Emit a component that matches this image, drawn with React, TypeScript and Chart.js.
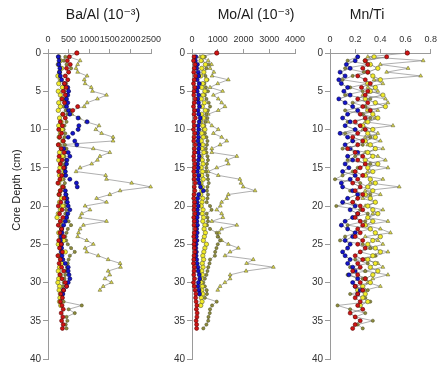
import React, { useEffect, useRef } from "react";
import { Chart, registerables } from "chart.js";

Chart.register(...registerables);

const FONT = "'Liberation Sans', Arial, 'DejaVu Sans', sans-serif";

// ---- depths (cm) ----
const DEPTH_TRI = [
  0, 0.5, 1, 1.5, 2, 2.5, 3, 3.5, 4, 4.5,
  5, 5.5, 6, 6.5, 7, 7.5, 8, 8.5, 9, 9.5,
  10, 10.5, 11, 11.5, 12, 12.5, 13, 13.5, 14, 14.5,
  15, 15.5, 16, 16.5, 17, 17.5, 18, 18.5, 19, 19.5,
  20, 20.5, 21, 21.5, 22, 22.5, 23, 23.5, 24, 24.5,
  25, 25.5, 26, 26.5, 27, 27.5, 28, 28.5, 29, 29.5,
  30, 30.5, 31,
];
const DEPTH_RED = [
  0.5, 1, 1.5, 2, 2.5, 3, 3.5, 4, 4.5, 5,
  5.5, 6, 6.5, 7, 7.5, 8, 8.5, 9, 9.5, 10,
  10.5, 11, 11.5, 12, 12.5, 13, 13.5, 14, 14.5, 15,
  15.5, 16, 16.5, 17, 17.5, 18, 18.5, 19, 19.5, 20,
  20.5, 21, 21.5, 22, 22.5, 23, 23.5, 24, 24.5, 25,
  25.5, 26, 26.5, 27, 27.5, 28, 28.5, 29, 29.5, 30,
  30.5, 31, 31.5, 32, 32.5, 33, 33.5, 34, 34.5, 35,
  35.5, 36,
];
const DEPTH_OLIVE = [
  0.5, 1, 1.5, 2, 2.5, 3, 3.5, 4, 4.5, 5,
  5.5, 6, 6.5, 7, 7.5, 8, 8.5, 9, 9.5, 10,
  10.5, 11, 11.5, 12, 12.5, 13, 13.5, 14, 14.5, 15,
  15.5, 16, 16.5, 17, 17.5, 18, 18.5, 19, 19.5, 20,
  20.5, 21, 21.5, 22, 22.5, 23, 23.5, 24, 24.5, 25,
  25.5, 26, 26.5, 27, 27.5, 28, 28.5, 29, 29.5, 30,
  30.5, 31, 31.5, 32, 32.5, 33, 33.5, 34, 34.5, 35,
  35.5, 36,
];
const DEPTH_BLUE = [
  0.5, 1, 1.5, 2, 2.5, 3, 3.5, 4, 4.5, 5,
  5.5, 6, 6.5, 7, 7.5, 8, 8.5, 9, 9.5, 10,
  10.5, 11, 11.5, 12, 12.5, 13, 13.5, 14, 14.5, 15,
  15.5, 16, 16.5, 17, 17.5, 18, 18.5, 19, 19.5, 20,
  20.5, 21, 21.5, 22, 22.5, 23, 23.5, 24, 24.5, 25,
  25.5, 26, 26.5, 27, 27.5, 28, 28.5, 29, 29.5, 30,
  30.5, 31, 31.5,
];
const DEPTH_YELLOW = [
  0.5, 1, 1.5, 2, 2.5, 3, 3.5, 4, 4.5, 5,
  5.5, 6, 6.5, 7, 7.5, 8, 8.5, 9, 9.5, 10,
  10.5, 11, 11.5, 12, 12.5, 13, 13.5, 14, 14.5, 15,
  15.5, 16, 16.5, 17, 17.5, 18, 18.5, 19, 19.5, 20,
  20.5, 21, 21.5, 22, 22.5, 23, 23.5, 24, 24.5, 25,
  25.5, 26, 26.5, 27, 27.5, 28, 28.5, 29, 29.5, 30,
  30.5, 31, 31.5, 32, 32.5, 33,
];

// ---- Ba/Al (10^-3) ----
const BA_TRI = [
  700, 500, 780, 720, 680, 720, 950, 880, 900, 1050,
  1080, 1420, 1200, 950, 880, 540, 580, 760, 930, 1240,
  1160, 1300, 1580, 1580, 300, 1100, 1500, 1260, 1200, 1060,
  780, 680, 1400, 1420, 2030, 2490, 1750, 1500, 1180, 1420,
  900, 1020, 820, 780, 1420, 860, 780, 740, 720, 940,
  1100, 900, 940, 1220, 1460, 1750, 1760, 1460, 1500, 1380,
  1540, 1340, 1260,
];
const BA_RED = [
  520, 470, 540, 450, 500, 420, 480, 400, 440, 370,
  420, 340, 400, 720, 600, 360, 420, 300, 350, 260,
  330, 280, 370, 250, 320, 390, 270, 340, 300, 380,
  260, 330, 290, 240, 360, 300, 270, 390, 310, 250,
  340, 280, 360, 300, 250, 330, 290, 380, 260, 320,
  280, 350, 240, 300, 270, 330, 380, 290, 340, 420,
  450, 380, 310, 350, 300, 340, 370, 320, 360, 330,
  370, 350,
];
const BA_BLUE = [
  250, 270, 260, 290, 280, 300, 330, 400, 480, 500,
  480, 450, 480, 450, 500, 530, 730, 950, 750, 730,
  600, 490, 650, 700, 380, 490, 530, 460, 450, 410,
  420, 430, 530, 690, 710, 420, 430, 450, 470, 490,
  530, 480, 450, 420, 380, 330, 340, 320, 300, 330,
  330, 320, 340, 360, 420, 490, 490, 510, 530, 490,
  450, 380, 360,
];
const BA_YELLOW = [
  260, 300, 250, 330, 280, 240, 300, 260, 350, 250,
  300, 340, 260, 300, 250, 360, 280, 320, 260, 340,
  300, 270, 360, 260, 330, 280, 350, 260, 310, 290,
  380, 280, 320, 260, 350, 300, 270, 330, 280, 360,
  300, 250, 220, 310, 280, 330, 260, 300, 380, 250,
  300, 420, 260, 310, 330, 280, 250, 300, 260, 240,
  280, 270, 300, 290, 280, 310,
];
const BA_OLIVE = [
  420, 380, 450, 560, 500, 420, 480, 440, 380, 400,
  450, 420, 400, 380, 430, 470, 420, 450, 400, 380,
  420, 400, 380, 410, 450, 420, 400, 430, 410, 390,
  420, 400, 380, 410, 390, 420, 450, 470, 430, 410,
  440, 420, 460, 500, 560, 480, 450, 420, 440, 480,
  560, 650, 530, 500, 480, 460, 440, 420, 400, 380,
  360, 340, 360, 350, 380, 820, 500, 650, 450, 470,
  430, 450,
];

// ---- Mo/Al (10^-3) ----
const MO_TRI = [
  960, 310, 630, 760, 700, 850, 780, 1410, 1000, 700,
  1190, 830, 1020, 1150, 1280, 1020, 630, 500, 630, 770,
  1020, 830, 1150, 1350, 1090, 770, 770, 1740, 1350, 1410,
  960, 630, 1020, 1860, 1900, 1990, 2450, 1410, 1350, 1150,
  1100, 960, 1150, 1200, 770, 1740, 1150, 1050, 1020, 1150,
  1410, 1800, 1480, 1280, 2380, 2120, 3160, 2100, 1480, 1480,
  1280, 1090, 1000,
];
const MO_RED = [
  80, 60, 120, 90, 70, 130, 90, 60, 110, 80,
  70, 120, 90, 60, 100, 80, 130, 70, 90, 60,
  110, 80, 70, 120, 90, 100, 70, 80, 110, 90,
  70, 100, 80, 120, 90, 110, 80, 70, 100, 90,
  80, 110, 70, 90, 80, 120, 90, 70, 100, 80,
  90, 110, 80, 70, 60, 90, 80, 70, 100, 60,
  90, 120, 150, 140, 160, 190, 170, 200, 190, 160,
  180, 180,
];
const MO_BLUE = [
  150, 130, 210, 180, 240, 260, 200, 280, 230, 200,
  260, 220, 250, 290, 230, 260, 320, 280, 240, 260,
  220, 250, 230, 270, 260, 240, 280, 250, 220, 240,
  210, 260, 240, 280, 330, 440, 260, 220, 200, 240,
  210, 230, 200, 190, 210, 180, 200, 170, 190, 160,
  150, 170, 160, 180, 200, 230, 240, 280, 300, 250,
  230, 270, 290,
];
const MO_YELLOW = [
  420, 350, 520, 380, 460, 340, 560, 420, 380, 500,
  430, 360, 480, 400, 520, 380, 450, 340, 420, 500,
  380, 440, 360, 420, 390, 460, 350, 400, 430, 360,
  410, 380, 440, 350, 400, 380, 340, 420, 390, 360,
  430, 400, 450, 420, 500, 470, 520, 480, 440, 560,
  500, 460, 420, 450, 400, 430, 380, 410, 370, 350,
  400, 380, 420, 360, 390, 340,
];
const MO_OLIVE = [
  500, 380, 640, 560, 460, 520, 600, 480, 540, 620,
  500, 560, 650, 700, 620, 560, 600, 520, 480, 440,
  500, 560, 600, 580, 540, 560, 600, 620, 580, 560,
  540, 600, 620, 650, 600, 580, 620, 600, 570, 700,
  760, 570, 600, 620, 580, 700, 960, 1000, 1090, 1000,
  950, 900, 890, 700, 680, 630, 600, 560, 500, 440,
  500, 570, 580, 500, 960, 780, 700, 690, 640, 630,
  560, 440,
];

// ---- Mn/Ti ----
const MN_TRI = [
  0.614, 0.30, 0.74, 0.40, 0.62, 0.45, 0.72, 0.35, 0.42, 0.30,
  0.38, 0.26, 0.44, 0.46, 0.28, 0.38, 0.26, 0.36, 0.28, 0.50,
  0.26, 0.38, 0.28, 0.40, 0.30, 0.42, 0.28, 0.38, 0.44, 0.28,
  0.46, 0.30, 0.26, 0.42, 0.32, 0.55, 0.28, 0.40, 0.26, 0.36,
  0.28, 0.42, 0.34, 0.30, 0.46, 0.28, 0.40, 0.48, 0.28, 0.38,
  0.42, 0.32, 0.46, 0.36, 0.28, 0.38, 0.42, 0.28, 0.46, 0.34,
  0.30, 0.40, 0.28,
];
const MN_RED = [
  0.45, 0.28, 0.30, 0.26, 0.30, 0.22, 0.28, 0.32, 0.25, 0.30,
  0.28, 0.22, 0.30, 0.26, 0.32, 0.24, 0.28, 0.20, 0.24, 0.28,
  0.22, 0.18, 0.26, 0.22, 0.14, 0.20, 0.26, 0.22, 0.28, 0.24,
  0.20, 0.26, 0.22, 0.18, 0.24, 0.20, 0.26, 0.22, 0.18, 0.24,
  0.26, 0.22, 0.20, 0.24, 0.26, 0.22, 0.24, 0.20, 0.26, 0.22,
  0.28, 0.24, 0.20, 0.26, 0.22, 0.24, 0.18, 0.22, 0.28, 0.24,
  0.20, 0.26, 0.22, 0.20, 0.24, 0.22, 0.26, 0.16, 0.20, 0.24,
  0.20, 0.18,
];
const MN_BLUE = [
  0.22, 0.20, 0.13, 0.16, 0.08, 0.12, 0.07, 0.09, 0.14, 0.11,
  0.16, 0.07, 0.12, 0.18, 0.22, 0.14, 0.10, 0.16, 0.12, 0.20,
  0.08, 0.14, 0.18, 0.12, 0.16, 0.22, 0.14, 0.18, 0.12, 0.15,
  0.10, 0.20, 0.16, 0.09, 0.10, 0.18, 0.22, 0.14, 0.10, 0.20,
  0.16, 0.22, 0.18, 0.12, 0.09, 0.14, 0.20, 0.18, 0.12, 0.16,
  0.14, 0.10, 0.12, 0.16, 0.14, 0.18, 0.20, 0.15, 0.22, 0.18,
  0.20, 0.24, 0.22,
];
const MN_YELLOW = [
  0.35, 0.28, 0.32, 0.38, 0.30, 0.34, 0.40, 0.30, 0.36, 0.32,
  0.42, 0.28, 0.36, 0.44, 0.30, 0.34, 0.38, 0.30, 0.26, 0.34,
  0.30, 0.36, 0.28, 0.32, 0.36, 0.30, 0.34, 0.28, 0.38, 0.30,
  0.34, 0.28, 0.32, 0.36, 0.30, 0.34, 0.28, 0.32, 0.36, 0.30,
  0.34, 0.38, 0.30, 0.34, 0.28, 0.32, 0.36, 0.40, 0.34, 0.30,
  0.36, 0.40, 0.34, 0.30, 0.36, 0.32, 0.38, 0.34, 0.28, 0.32,
  0.26, 0.22, 0.28, 0.26, 0.30, 0.24,
];
const MN_OLIVE = [
  0.22, 0.14, 0.30, 0.12, 0.27, 0.18, 0.10, 0.30, 0.16, 0.26,
  0.12, 0.32, 0.18, 0.28, 0.12, 0.26, 0.32, 0.14, 0.24, 0.28,
  0.12, 0.32, 0.18, 0.26, 0.10, 0.30, 0.20, 0.14, 0.32, 0.22,
  0.18, 0.10, 0.04, 0.24, 0.30, 0.16, 0.32, 0.22, 0.18, 0.05,
  0.24, 0.30, 0.18, 0.28, 0.14, 0.32, 0.20, 0.12, 0.08, 0.26,
  0.32, 0.24, 0.36, 0.20, 0.30, 0.16, 0.28, 0.14, 0.26, 0.32,
  0.20, 0.30, 0.16, 0.28, 0.32, 0.06, 0.16, 0.28, 0.20, 0.34,
  0.22, 0.26,
];

// ---- axis ticks ----
const DEPTH_TICKS_STEP = 5;
const DEPTH_MAX = 40;

const pts = (xs: number[], ys: number[]) => xs.map((v, i) => ({ x: v, y: ys[i] }));

const panelText = {
  id: "panelText",
  afterDraw(chart: any, _args: any, opts: any) {
    const ctx = chart.ctx;
    ctx.save();
    ctx.fillStyle = "#1a1a1a";
    ctx.textAlign = "center";
    ctx.textBaseline = "middle";
    ctx.font = `14px ${FONT}`;
    ctx.fillText(opts.title, opts.titleX, opts.titleY);
    if (opts.yLabel) {
      ctx.translate(opts.yLabelX, opts.yLabelY);
      ctx.rotate(-Math.PI / 2);
      ctx.font = `11px ${FONT}`;
      ctx.fillStyle = "#222";
      ctx.fillText(opts.yLabel, 0, 0);
    }
    ctx.restore();
  },
};

const LINE_GRAY = "#8c8c8c";

function makeDatasets(
  tri: number[],
  red: number[],
  blue: number[],
  yellow: number[],
  olive: number[],
  allLines: boolean
) {
  const common = { clip: false as any };
  const thin = allLines
    ? { showLine: true, borderColor: "#7a7a7a", borderWidth: 0.8 }
    : { showLine: false };
  return [
    {
      ...common,
      label: "surface",
      data: [{ x: tri[0], y: DEPTH_TRI[0] }],
      pointRadius: 2.2,
      pointStyle: "circle",
      pointBackgroundColor: "#d01515",
      pointBorderColor: "#5a0000",
      pointBorderWidth: 0.6,
      showLine: false,
    },
    {
      ...common,
      ...thin,
      label: "red",
      data: pts(red, DEPTH_RED),
      pointRadius: 2.0,
      pointStyle: "circle",
      pointBackgroundColor: "#d01515",
      pointBorderColor: "#5a0000",
      pointBorderWidth: 0.6,
    },
    {
      ...common,
      ...thin,
      label: "blue",
      data: pts(blue, DEPTH_BLUE),
      pointRadius: 2.0,
      pointStyle: "circle",
      pointBackgroundColor: "#1414cc",
      pointBorderColor: "#00004a",
      pointBorderWidth: 0.6,
    },
    {
      ...common,
      ...thin,
      label: "yellow",
      data: pts(yellow, DEPTH_YELLOW),
      pointRadius: 2.2,
      pointStyle: "circle",
      pointBackgroundColor: "#f2ec28",
      pointBorderColor: "#5a5a3a",
      pointBorderWidth: 0.6,
    },
    {
      ...common,
      label: "olive",
      data: pts(olive, DEPTH_OLIVE),
      pointRadius: 1.6,
      pointStyle: "circle",
      pointBackgroundColor: "#8e8c3c",
      pointBorderColor: "#4a4a22",
      pointBorderWidth: 0.5,
      showLine: true,
      borderColor: LINE_GRAY,
      borderWidth: 0.7,
    },
    {
      ...common,
      label: "triangles",
      data: pts(tri, DEPTH_TRI),
      pointRadius: 2.2,
      pointStyle: "triangle",
      pointBackgroundColor: "#dcd84a",
      pointBorderColor: "#55552e",
      pointBorderWidth: 0.5,
      showLine: true,
      borderColor: LINE_GRAY,
      borderWidth: 0.7,
    },
  ];
}

type PanelCfg = {
  left: number;
  width: number;
  yAxisWidth: number;
  padRight: number;
  xMax: number;
  xStep: number;
  fmt: (v: number) => string;
  title: string;
  titleX: number;
  yLabel?: string;
  datasets: any[];
};

function Panel({ cfg }: { cfg: PanelCfg }) {
  const ref = useRef<HTMLCanvasElement | null>(null);
  useEffect(() => {
    if (!ref.current) return;
    const axisColor = "#9a9a9a";
    const chart = new Chart(ref.current, {
      type: "scatter",
      data: { datasets: cfg.datasets },
      plugins: [panelText],
      options: {
        animation: false,
        responsive: false,
        devicePixelRatio: 1,
        layout: { padding: { left: 0, right: cfg.padRight, top: 0, bottom: 12 } },
        plugins: {
          legend: { display: false },
          tooltip: { enabled: false },
          // @ts-ignore
          panelText: {
            title: cfg.title,
            titleX: cfg.titleX,
            titleY: 15,
            yLabel: cfg.yLabel,
            yLabelX: 17,
            yLabelY: 190,
          },
        },
        scales: {
          x: {
            type: "linear",
            position: "top",
            min: 0,
            max: cfg.xMax,
            ticks: {
              stepSize: cfg.xStep,
              autoSkip: false,
              maxRotation: 0,
              minRotation: 0,
              padding: 4,
              color: "#333",
              font: { family: FONT, size: 9 },
              callback: (v: any) => cfg.fmt(Number(v)),
            },
            grid: { drawOnChartArea: false, drawTicks: true, tickLength: 4, color: axisColor },
            border: { display: true, color: axisColor, width: 1 },
            afterFit: (s: any) => {
              s.height = 53;
            },
          },
          y: {
            type: "linear",
            position: "left",
            reverse: true,
            min: 0,
            max: DEPTH_MAX,
            ticks: {
              stepSize: DEPTH_TICKS_STEP,
              padding: 2,
              color: "#333",
              font: { family: FONT, size: 10 },
              callback: (v: any) => String(v),
            },
            grid: { drawOnChartArea: false, drawTicks: true, tickLength: 5, color: axisColor },
            border: { display: true, color: axisColor, width: 1 },
            afterFit: (s: any) => {
              s.width = cfg.yAxisWidth;
            },
          },
        },
      } as any,
    });
    return () => chart.destroy();
  }, []);
  return (
    <canvas
      ref={ref}
      width={cfg.width}
      height={371}
      style={{ position: "absolute", left: cfg.left, top: 0, width: cfg.width, height: 371 }}
    />
  );
}

const PANELS: PanelCfg[] = [
  {
    left: 0,
    width: 168,
    yAxisWidth: 48,
    padRight: 17,
    xMax: 2500,
    xStep: 500,
    fmt: (v) => String(v),
    title: "Ba/Al (10\u207B\u00B3)",
    titleX: 103,
    yLabel: "Core Depth (cm)",
    datasets: makeDatasets(BA_TRI, BA_RED, BA_BLUE, BA_YELLOW, BA_OLIVE, false),
  },
  {
    left: 150,
    width: 165,
    yAxisWidth: 42,
    padRight: 20,
    xMax: 4000,
    xStep: 1000,
    fmt: (v) => String(v),
    title: "Mo/Al (10\u207B\u00B3)",
    titleX: 106,
    datasets: makeDatasets(MO_TRI, MO_RED, MO_BLUE, MO_YELLOW, MO_OLIVE, false),
  },
  {
    left: 295,
    width: 146,
    yAxisWidth: 35,
    padRight: 8,
    xMax: 0.8,
    xStep: 0.2,
    fmt: (v) => (Math.abs(v) < 1e-9 ? "0" : v.toFixed(1)),
    title: "Mn/Ti",
    titleX: 72,
    datasets: makeDatasets(MN_TRI, MN_RED, MN_BLUE, MN_YELLOW, MN_OLIVE, true),
  },
];

export default function App() {
  return (
    <div
      style={{
        position: "fixed",
        left: 0,
        top: 0,
        width: 441,
        height: 371,
        background: "#ffffff",
        overflow: "hidden",
      }}
    >
      {PANELS.map((p, i) => (
        <Panel key={i} cfg={p} />
      ))}
    </div>
  );
}
